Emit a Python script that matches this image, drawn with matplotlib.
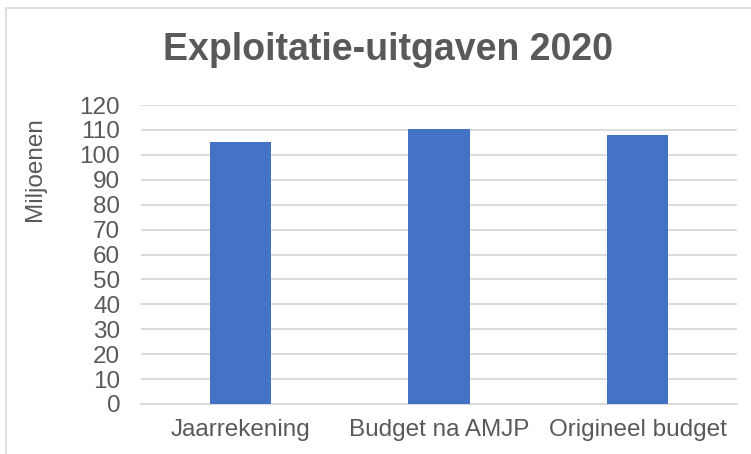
import matplotlib
matplotlib.use("Agg")
import matplotlib.pyplot as plt
from matplotlib.patches import Rectangle

categories = ["Jaarrekening", "Budget na AMJP", "Origineel budget"]
values = [105.1, 110.3, 107.9]
yticks = list(range(0, 130, 10))

plt.rcParams['font.family'] = ['Liberation Sans', 'DejaVu Sans']
W, H = 751, 454
fig = plt.figure(figsize=(W/100, H/100), dpi=100)
fig.patch.set_facecolor("white")

# outer border (chart area frame), partially cut off at right/bottom
fig.patches.append(Rectangle((6.5/W, -0.1), 1.2, 1 - 8/H + 0.1, transform=fig.transFigure,
                             fill=False, edgecolor="#d9d9d9", linewidth=1.2))

left, right = 141/W, 737/W
bottom, top = 1 - 404/H, 1 - 105/H
ax = fig.add_axes([left, bottom, right - left, top - bottom])
x = range(len(categories))
ax.bar(x, values, width=0.31, color="#4472C4", zorder=3)
ax.set_xlim(-0.5, len(categories) - 0.5)
ax.set_ylim(0, 120)
ax.set_yticks(yticks)
ax.set_yticklabels([str(v) for v in yticks], fontsize=17.5, color="#595959")
ax.set_xticks(list(x))
ax.set_xticklabels(categories, fontsize=17.5, color="#595959")
ax.tick_params(axis="both", length=0)
ax.tick_params(axis="y", pad=15)
ax.tick_params(axis="x", pad=11)
ax.grid(axis="y", color="#d9d9d9", linewidth=1.3, zorder=0)
for s in ["top", "right", "left"]:
    ax.spines[s].set_visible(False)
ax.spines["bottom"].set_color("#d9d9d9")
ax.spines["bottom"].set_linewidth(1.3)

fig.text(35/W, 1 - 169/H, "Miljoenen", rotation=90, ha="center", va="center",
         fontsize=17.5, color="#595959")
fig.text(388/W, 1 - 50/H, "Exploitatie-uitgaven 2020", ha="center", va="center",
         fontsize=27, fontweight="bold", color="#595959")

fig.savefig("out.png", dpi=100, facecolor="white")
